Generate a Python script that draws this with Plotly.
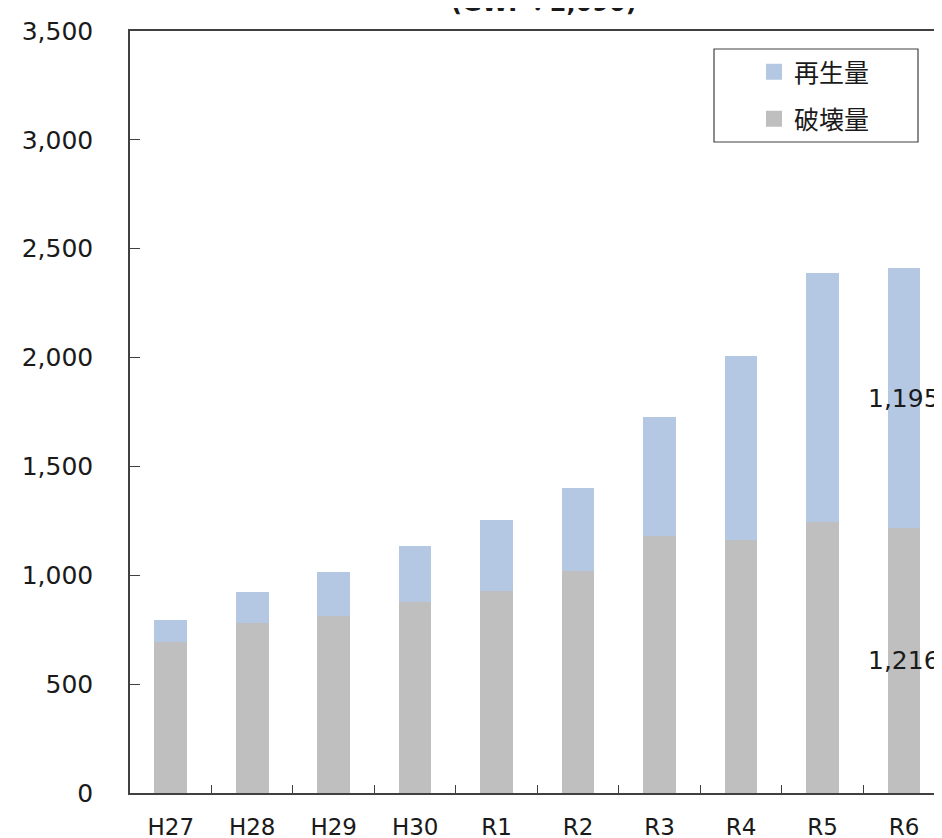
import plotly.graph_objects as go

categories = ["H27", "H28", "H29", "H30", "R1", "R2", "R3", "R4", "R5", "R6"]
destroyed = [692, 782, 814, 877, 929, 1021, 1180, 1162, 1244, 1216]   # 破壊量
recycled = [102, 142, 201, 257, 324, 379, 548, 844, 1146, 1195]       # 再生量
y_ticks = [0, 500, 1000, 1500, 2000, 2500, 3000, 3500]
title_text = "(GWP：2,090)"

BLUE = "#B4C7E3"
GRAY = "#BFBFBF"
AXIS = "#404040"
TXT = "#1a1a1a"

OFF = 8  # page body offset
W, H = 942 - OFF, 838 - OFF
L, T, B = 130 - OFF, 31 - OFF, 45
plot_w = W - L
plot_h = H - T - B

# helpers converting reference window pixels to paper coords
def px_x(p):
    return (p - OFF - L) / plot_w

def px_y(p):
    return (H - B - (p - OFF)) / plot_h

fig = go.Figure()
fig.add_trace(go.Bar(x=categories, y=destroyed, name="破壊量", marker=dict(color=GRAY, line=dict(width=0)),
                     width=0.4, showlegend=False, hoverinfo="skip"))
fig.add_trace(go.Bar(x=categories, y=recycled, name="再生量", marker=dict(color=BLUE, line=dict(width=0)),
                     width=0.4, showlegend=False, hoverinfo="skip"))

# legend proxies
fig.add_trace(go.Scatter(x=[None], y=[None], mode="markers", name="再生量",
                         marker=dict(symbol="square", size=17, color=BLUE), legend="legend"))
fig.add_trace(go.Scatter(x=[None], y=[None], mode="markers", name="破壊量",
                         marker=dict(symbol="square", size=17, color=GRAY), legend="legend2"))

# data labels on last bar
fig.add_annotation(x=categories[-1], y=destroyed[-1] / 2, text=f"{destroyed[-1]:,}", showarrow=False,
                   font=dict(family="DejaVu Sans", size=25, color=TXT), xanchor="center", yanchor="middle")
fig.add_annotation(x=categories[-1], y=destroyed[-1] + recycled[-1] / 2, text=f"{recycled[-1]:,}", showarrow=False,
                   font=dict(family="DejaVu Sans", size=25, color=TXT), xanchor="center", yanchor="middle")

# clipped title
fig.add_annotation(xref="paper", yref="paper", x=px_x(543.5), y=px_y(3), text=f"<b>{title_text}</b>",
                   showarrow=False, xanchor="center", yanchor="middle",
                   font=dict(family="DejaVu Sans, Noto Sans CJK JP", size=24, color=TXT))

# legend frame
fig.add_shape(type="rect", xref="paper", yref="paper", x0=px_x(714), x1=px_x(918), y0=px_y(142), y1=px_y(49),
              line=dict(color=AXIS, width=1.2), fillcolor="white", layer="above")

legend_common = dict(bgcolor="rgba(0,0,0,0)", borderwidth=0,
                     font=dict(family="Noto Sans CJK JP", size=25, color=TXT),
                     xanchor="left", yanchor="middle", itemsizing="trace")

fig.update_layout(
    width=W, height=H,
    margin=dict(l=L, r=0, t=T, b=B, pad=0, autoexpand=False),
    plot_bgcolor="white", paper_bgcolor="white",
    barmode="stack",
    legend=dict(x=px_x(754), y=px_y(72), **legend_common),
    legend2=dict(x=px_x(754), y=px_y(119), **legend_common),
    xaxis=dict(
        type="category", categoryorder="array", categoryarray=categories,
        range=[-0.5, 9.466], showline=True, linecolor=AXIS, linewidth=1.5, mirror=True,
        ticks="inside", ticklen=8, tickcolor=AXIS, tickwidth=1.2, tickson="boundaries",
        tickfont=dict(family="DejaVu Sans", size=23, color=TXT), ticklabelstandoff=13,
        showgrid=False, zeroline=False, automargin=False,
    ),
    yaxis=dict(
        range=[0, 3500], tickvals=y_ticks, ticktext=[f"{v:,}" for v in y_ticks],
        showline=True, linecolor=AXIS, linewidth=1.5, mirror=True,
        ticks="inside", ticklen=10, tickcolor=AXIS, tickwidth=1.2,
        tickfont=dict(family="DejaVu Sans", size=25, color=TXT), ticklabelstandoff=30,
        showgrid=False, zeroline=False, automargin=False,
    ),
    showlegend=True,
)

fig.write_html("out.html")
